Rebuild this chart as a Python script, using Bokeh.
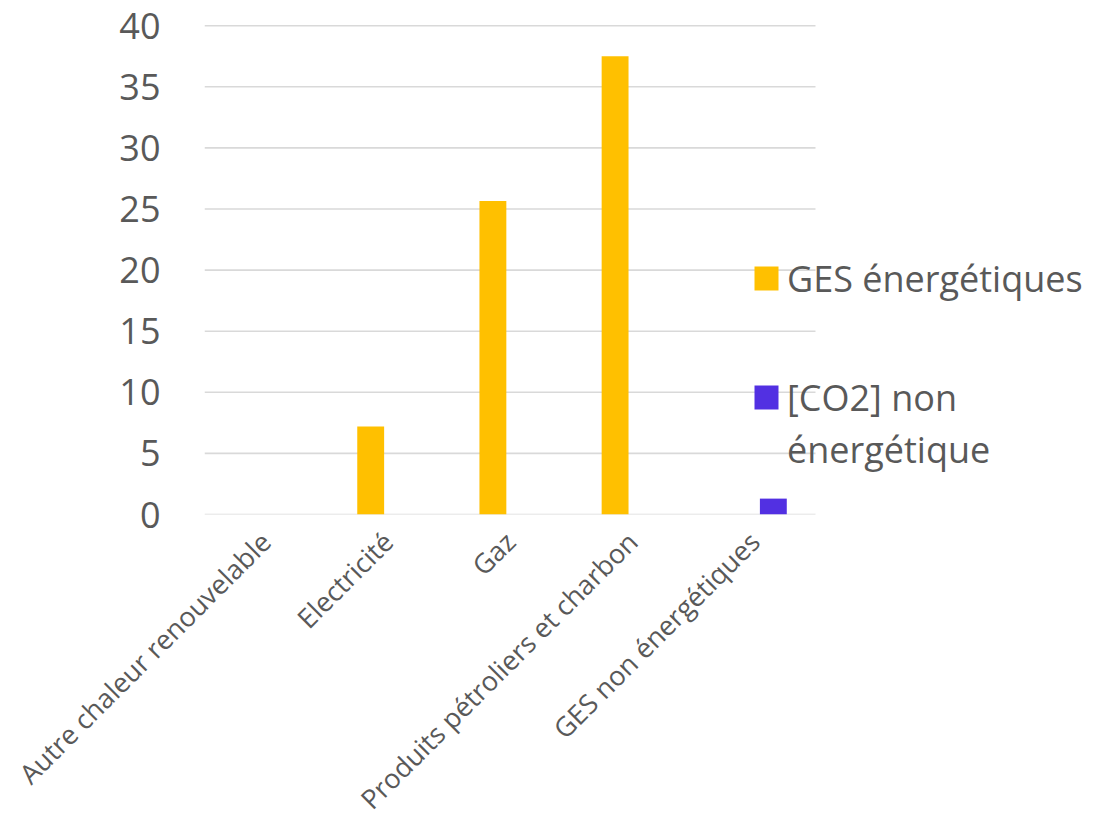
import math
from bokeh.plotting import figure
from bokeh.models import ColumnDataSource, Legend, LegendItem, FixedTicker, Range1d
from bokeh.transform import dodge
from bokeh.embed import file_html
from bokeh.resources import INLINE

categories = ["Autre chaleur renouvelable", "Electricité", "Gaz",
              "Produits pétroliers et charbon", "GES non énergétiques"]
ges_energetiques = [0, 7.2, 25.65, 37.5, 0]
co2_non_energetique = [0, 0, 0, 0, 1.3]
series_names = ["GES énergétiques", "[CO2] non", "énergétique"]
colors = ["#FFC000", "#5230E2"]
y_ticks = [0, 5, 10, 15, 20, 25, 30, 35, 40]

idx = list(range(len(categories)))
src = ColumnDataSource(dict(idx=idx, a=ges_energetiques, b=co2_non_energetique))

FONT = "Open Sans"
TXT = "#595959"
GRID = "#D9D9D9"

W, H = 1100, 832
LEFT, TOP, BOTTOM = 204, 24, 318
frame_w = W - LEFT
cat_px = 122.2
x_end = -0.5 + frame_w / cat_px

p = figure(x_range=Range1d(-0.5, x_end), y_range=Range1d(0, 40.1),
           width=W, height=H, output_backend="svg", toolbar_location=None,
           min_border_left=LEFT, min_border_right=0, min_border_top=TOP,
           min_border_bottom=BOTTOM)
p.outline_line_color = None
p.background_fill_color = "white"
p.border_fill_color = "white"

# horizontal gridlines limited to the category area
p.segment(x0=-0.5, x1=len(categories) - 0.5, y0=y_ticks, y1=y_ticks,
          line_color=GRID, line_width=1.6)

r1 = p.vbar(x=dodge("idx", -0.14), top="a", width=0.22, source=src,
            fill_color=colors[0], line_color=None)
r2 = p.vbar(x=dodge("idx", 0.155), top="b", width=0.22, source=src,
            fill_color=colors[1], line_color=None)
r_blank = p.vbar(x=[], top=[], width=0.22, fill_alpha=0, line_alpha=0)

p.xgrid.grid_line_color = None
p.ygrid.grid_line_color = None

p.yaxis.ticker = FixedTicker(ticks=y_ticks)
p.yaxis.axis_line_color = None
p.yaxis.major_tick_line_color = None
p.yaxis.minor_tick_line_color = None
p.yaxis.major_label_text_font = FONT
p.yaxis.major_label_text_font_size = "36px"
p.yaxis.major_label_text_color = TXT
p.yaxis.major_label_standoff = 38

p.xaxis.ticker = FixedTicker(ticks=idx)
p.xaxis.major_label_overrides = {i: c for i, c in zip(idx, categories)}
p.xaxis.bounds = (-0.5, len(categories) - 0.5)
p.xaxis.axis_line_color = None
p.xaxis.major_tick_line_color = None
p.xaxis.minor_tick_line_color = None
p.xaxis.major_label_text_font = FONT
p.xaxis.major_label_text_font_size = "27px"
p.xaxis.major_label_text_color = TXT
p.xaxis.major_label_orientation = math.pi / 4
p.xaxis.major_label_standoff = 16


def mk_legend(item, loc):
    return Legend(items=[item], location=loc, orientation="vertical",
                  background_fill_alpha=0, border_line_color=None,
                  padding=0, margin=0, spacing=0,
                  glyph_width=30, glyph_height=30, label_standoff=6,
                  label_text_font=FONT, label_text_font_size="36px",
                  label_text_color=TXT, label_height=52)


p.add_layout(mk_legend(LegendItem(label=series_names[0], renderers=[r1]), (547, 210)), "center")
p.add_layout(mk_legend(LegendItem(label=series_names[1], renderers=[r2]), (547, 91)), "center")
p.add_layout(mk_legend(LegendItem(label=series_names[2], renderers=[r_blank]), (547, 39)), "center")

open("out.html", "w").write(file_html(p, INLINE))
